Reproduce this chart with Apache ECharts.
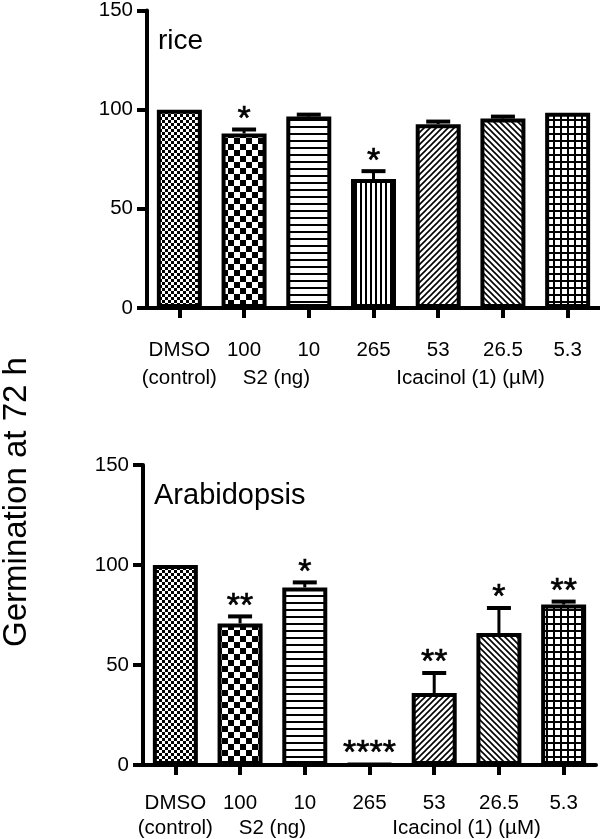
<!DOCTYPE html>
<html>
<head>
<meta charset="utf-8">
<script src="https://cdn.jsdelivr.net/npm/echarts@6/dist/echarts.min.js"></script>
<style>
html,body{margin:0;padding:0;background:#fff;}
#main{width:600px;height:839px;}
</style>
</head>
<body>
<div id="main"></div>
<script>
var categories=['DMSO','100','10','265','53','26.5','5.3'];
var groupLabels=['(control)','S2 (ng)','Icacinol (1) (µM)'];
var groupSpans=[[0,0],[1,2],[4,5]];
var yTicks=[0,50,100,150];

var riceMean=[100,88,96.5,65,92.7,95.5,98.5];
var riceErr=[0,2,1,4,1.3,1,0];
var riceStars=['','*','','*','','',''];

var arabMean=[100,70.8,88.8,0.5,36,66,80.2];
var arabErr=[0,3.5,2.5,0,10,12.5,1.5];
var arabStars=['','**','*','****','**','*','**'];

var FONT='Liberation Sans, Arial, sans-serif';

// hatch fills for the bars
function makePattern(type){
	var c=document.createElement('canvas');
	var s=6;
	if(type=='check') s=12;
	if(type=='hline' || type=='grid') s=7;
	if(type=='vline') s=5;
	c.width=s;c.height=s;
	var ctx=c.getContext('2d');
	ctx.fillStyle='#fff';
	ctx.fillRect(0,0,s,s);
	ctx.fillStyle='#000';
	ctx.strokeStyle='#000';
	if(type=='fineCheck'){
		ctx.fillRect(0,0,3,3);ctx.fillRect(3,3,3,3);
	}else if(type=='check'){
		ctx.fillRect(0,0,6,6);ctx.fillRect(6,6,6,6);
	}else if(type=='hline'){
		ctx.fillRect(0,0,s,2);
	}else if(type=='vline'){
		ctx.fillRect(0,0,2,s);
	}else if(type=='grid'){
		ctx.fillRect(0,0,s,2);ctx.fillRect(0,0,2,s);
	}else if(type=='fslash' || type=='bslash'){
		ctx.lineWidth=1.6;
		ctx.beginPath();
		if(type=='fslash'){
			ctx.moveTo(-1,s+1);ctx.lineTo(s+1,-1);
			ctx.moveTo(-1,1);ctx.lineTo(1,-1);
			ctx.moveTo(s-1,s+1);ctx.lineTo(s+1,s-1);
		}else{
			ctx.moveTo(-1,-1);ctx.lineTo(s+1,s+1);
			ctx.moveTo(-1,s-1);ctx.lineTo(1,s+1);
			ctx.moveTo(s-1,-1);ctx.lineTo(s+1,1);
		}
		ctx.stroke();
	}
	return {image:c,repeat:'repeat'};
}
var patternTypes=['fineCheck','check','hline','vline','fslash','bslash','grid'];
var patterns=[];
for(var i=0;i<patternTypes.length;i++){
	patterns.push(makePattern(patternTypes[i]));
}

function barData(means){
	var arr=[];
	for(var i=0;i<means.length;i++){
		arr.push({value:means[i],itemStyle:{color:patterns[i]}});
	}
	return arr;
}
function errData(means,errs){
	var arr=[];
	for(var i=0;i<means.length;i++){
		arr.push([i,means[i],errs[i]]);
	}
	return arr;
}
function errRenderer(stars){
	return function(params,api){
		var i=api.value(0),m=api.value(1),e=api.value(2);
		var base=api.coord([i,m]);
		var top=api.coord([i,m+e]);
		var children=[];
		if(e>0){
			children.push({type:'line',shape:{x1:base[0],y1:base[1],x2:top[0],y2:top[1]},style:{stroke:'#000',lineWidth:3}});
			children.push({type:'line',shape:{x1:top[0]-12,y1:top[1],x2:top[0]+12,y2:top[1]},style:{stroke:'#000',lineWidth:4}});
		}
		var st=stars[params.dataIndex];
		if(st){
			children.push({type:'text',x:top[0],y:top[1]-10,style:{text:st,fontSize:34,fontFamily:FONT,fill:'#000',stroke:'#000',lineWidth:0.6,align:'center',verticalAlign:'middle'}});
		}
		return {type:'group',children:children};
	};
}

function xAxisCfg(gi,margin){
	return {
		type:'category',gridIndex:gi,data:categories,
		axisLine:{show:true,lineStyle:{color:'#000',width:4}},
		axisTick:{show:true,alignWithLabel:true,length:10,lineStyle:{color:'#000',width:4}},
		axisLabel:{color:'#000',fontSize:20.5,fontFamily:FONT,margin:margin,interval:0},
		splitLine:{show:false}
	};
}
function yAxisCfg(gi){
	return {
		type:'value',gridIndex:gi,min:yTicks[0],max:yTicks[yTicks.length-1],interval:50,
		axisLine:{show:true,lineStyle:{color:'#000',width:4}},
		axisTick:{show:true,length:10,lineStyle:{color:'#000',width:4}},
		axisLabel:{color:'#000',fontSize:20.5,fontFamily:FONT,margin:14},
		splitLine:{show:false}
	};
}

var chart=echarts.init(document.getElementById('main'));
var option={
	backgroundColor:'#fff',
	animation:false,
	grid:[
		{left:147,top:8,width:453,height:300},
		{left:143,top:465,width:453,height:300}
	],
	xAxis:[xAxisCfg(0,32),xAxisCfg(1,28)],
	yAxis:[yAxisCfg(0),yAxisCfg(1)],
	series:[
		{type:'bar',xAxisIndex:0,yAxisIndex:0,barWidth:45,data:barData(riceMean),
			itemStyle:{borderColor:'#000',borderWidth:4}},
		{type:'custom',xAxisIndex:0,yAxisIndex:0,data:errData(riceMean,riceErr),renderItem:errRenderer(riceStars),z:5},
		{type:'bar',xAxisIndex:1,yAxisIndex:1,barWidth:45,data:barData(arabMean),
			itemStyle:{borderColor:'#000',borderWidth:4}},
		{type:'custom',xAxisIndex:1,yAxisIndex:1,data:errData(arabMean,arabErr),renderItem:errRenderer(arabStars),z:5}
	]
};
chart.setOption(option);

// second line of the x labels, centred under each group
var graphics=[];
var secondLineY=[308+32+28,765+28+25];
for(var g=0;g<2;g++){
	for(var k=0;k<groupLabels.length;k++){
		var x1=chart.convertToPixel({xAxisIndex:g},groupSpans[k][0]);
		var x2=chart.convertToPixel({xAxisIndex:g},groupSpans[k][1]);
		graphics.push({type:'text',x:(x1+x2)/2,y:secondLineY[g],
			style:{text:groupLabels[k],fontSize:20.5,fontFamily:FONT,fill:'#000',align:'center',verticalAlign:'top'}});
	}
}
graphics.push({type:'text',left:158,top:27,style:{text:'rice',fontSize:28,fontFamily:FONT,fill:'#000'}});
graphics.push({type:'text',left:154,top:481,style:{text:'Arabidopsis',fontSize:29,fontFamily:FONT,fill:'#000'}});
graphics.push({type:'text',x:17,y:502,rotation:Math.PI/2,
	style:{text:'Germination at 72 h',fontSize:33,fontFamily:FONT,fill:'#000',align:'center',verticalAlign:'middle'}});
chart.setOption({graphic:graphics});
</script>
</body>
</html>
